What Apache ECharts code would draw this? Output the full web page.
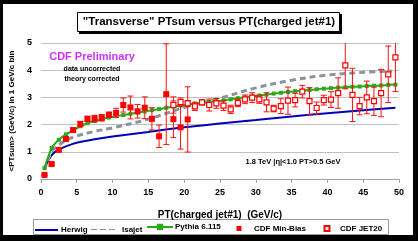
<!DOCTYPE html>
<html><head><meta charset="utf-8">
<script src="https://cdn.jsdelivr.net/npm/echarts@6/dist/echarts.min.js"></script>
<style>html,body{margin:0;padding:0;background:#fff}#c{width:418px;height:241px}</style>
</head><body><div id="c"></div>
<script>
// ---- data ----
const herwigX = [0.5,1.5,2.5,3.5,5,7.5,10,15,20,25,30,35,40,45,49.5];
const herwigY = [0.40,0.88,1.08,1.20,1.33,1.46,1.56,1.73,1.90,2.04,2.17,2.30,2.42,2.53,2.62];
const isajetX = [0.5,1.5,2.5,3.5,5,7.5,10,15,20,25,30,35,40,45,49];
const isajetY = [0.33,1.00,1.25,1.42,1.58,1.75,1.88,2.20,2.63,2.97,3.35,3.63,3.82,3.92,3.97];
const pythiaX = [0.5,1.5,2.5,3.5,4.5,5.5,6.5,7.5,8.5,9.5,10.5,11.5,12.5,13.5,14.5,15.5,16.5,17.5,18.5,19.5,20.5,21.5,22.5,23.5,24.5,25.5,26.5,27.5,28.5,29.5,30.5,31.5,32.5,33.5,34.5,35.5,36.5,37.5,38.5,39.5,40.5,41.5,42.5,43.5,44.5,45.5,46.5,47.5,48.5,49.5];
const pythiaY = [0.40,1.14,1.44,1.64,1.79,1.94,2.05,2.13,2.20,2.26,2.31,2.35,2.40,2.44,2.48,2.53,2.57,2.62,2.66,2.70,2.74,2.77,2.80,2.83,2.86,2.89,2.93,2.97,3.00,3.04,3.07,3.10,3.14,3.17,3.20,3.23,3.25,3.27,3.30,3.32,3.34,3.36,3.37,3.39,3.40,3.42,3.43,3.44,3.46,3.47];
const minBiasX = [0.5,1.5,2.5,3.5,4.5,5.5,6.5,7.5,8.5,9.5,10.5,11.5,12.5,13.5,14.5,15.5,16.5,17.5,18.5,19.5,20.5];
const minBiasY = [0.15,0.55,1.07,1.47,1.80,2.02,2.21,2.22,2.25,2.36,2.43,2.72,2.63,2.49,2.62,2.21,1.57,3.12,2.20,1.90,2.19];
const minBiasErr = [0.02,0.03,0.04,0.05,0.06,0.10,0.10,0.12,0.12,0.10,0.17,0.26,0.42,0.25,0.40,0.41,0.41,1.85,0.67,0.80,1.20];
const jetX = [18.5,19.5,20.5,21.5,22.5,23.5,24.5,25.5,26.5,27.5,28.5,29.5,30.5,31.5,32.5,33.5,34.5,35.5,36.5,37.5,38.5,39.5,40.5,41.5,42.5,43.5,44.5,45.5,46.5,47.5,48.5,49.5];
const jetY = [2.72,2.83,2.78,2.67,2.82,2.72,2.78,2.70,2.56,2.80,2.93,2.99,2.93,2.82,2.59,2.68,2.88,2.90,3.21,2.86,2.61,2.90,2.92,3.16,4.18,3.09,2.68,3.00,2.86,3.16,3.85,4.47];
const jetErr = [0.30,0.15,0.10,0.15,0.10,0.22,0.18,0.18,0.15,0.14,0.16,0.18,0.15,0.35,0.12,0.27,0.50,0.25,0.23,0.50,0.22,0.18,0.29,0.56,0.86,0.98,0.32,0.60,0.52,0.87,1.04,1.25];
const xTicks = [0,5,10,15,20,25,30,35,40,45,50];
const yTicks = [0,1,2,3,4,5];

const pairs = (xs, ys) => xs.map((x, i) => [x, ys[i]]);
const errs = (xs, ys, es) => xs.map((x, i) => [x, ys[i] - es[i], ys[i] + es[i]]);

function errRender(params, api) {
  const x = api.value(0);
  const lo = api.coord([x, api.value(1)]);
  const hi = api.coord([x, api.value(2)]);
  const cw = 3;
  const st = { stroke: '#FF1010', lineWidth: 1 };
  return { type: 'group', children: [
    { type: 'line', shape: { x1: lo[0], y1: lo[1], x2: hi[0], y2: hi[1] }, style: st },
    { type: 'line', shape: { x1: lo[0]-cw, y1: lo[1], x2: lo[0]+cw, y2: lo[1] }, style: st },
    { type: 'line', shape: { x1: hi[0]-cw, y1: hi[1], x2: hi[0]+cw, y2: hi[1] }, style: st }
  ]};
}

const BLUE = '#0000BB', GRAY = '#8A949A', GREEN = '#2EA81A', RED = '#FF0000';
const FONT = 'Liberation Sans, Arial, sans-serif';
const txt = { fontFamily: FONT, fontWeight: 'bold', color: '#000' };
const lts = (pad) => Object.assign({ fontSize: 8, padding: [0, 0, 0, pad] }, txt);

const chart = echarts.init(document.getElementById('c'), null, { renderer: 'canvas' });
const LB = { itemGap: 0, selectedMode: false, padding: 0 };
chart.setOption({
  animation: false,
  backgroundColor: '#fff',
  grid: { left: 35, right: 19, top: 43, bottom: 62 },
  xAxis: {
    type: 'value', min: 0, max: 50, interval: 5,
    name: 'PT(charged jet#1)  (GeV/c)', nameLocation: 'middle', nameGap: 31,
    nameTextStyle: Object.assign({ fontSize: 10 }, txt),
    axisLine: { show: true, lineStyle: { color: '#A0A0A0', width: 1 } },
    axisTick: { show: true, length: 4, lineStyle: { color: '#A0A0A0' } },
    axisLabel: Object.assign({ fontSize: 9, margin: 9 }, txt),
    splitLine: { show: false }
  },
  yAxis: {
    type: 'value', min: 0, max: 5, interval: 1,
    name: '<PTsum> (GeV/c) in 1 GeV/c bin', nameLocation: 'middle', nameGap: 22, nameRotate: 90,
    nameTextStyle: Object.assign({ fontSize: 8 }, txt),
    axisLine: { show: false }, axisTick: { show: false },
    axisLabel: Object.assign({ fontSize: 9, margin: 9 }, txt),
    splitLine: { show: true, lineStyle: { color: '#C0C0C0', width: 1 } }
  },
  legend: [
    Object.assign({ left: 35, top: 226, itemWidth: 23, itemHeight: 2, textStyle: lts(-2),
      data: [{ name: 'Herwig', icon: 'rect' }] }, LB),
    Object.assign({ left: 91, top: 225.5, itemWidth: 24, itemHeight: 3, textStyle: lts(2),
      data: [{ name: 'Isajet', icon: 'path://M0,0h6v1h-6zM9,0h6v1h-6zM18,0h6v1h-6z' }] }, LB),
    Object.assign({ left: 146, top: 223, itemWidth: 26, itemHeight: 8, textStyle: lts(-3),
      data: ['Pythia 6.115'] }, LB),
    Object.assign({ left: 236.5, top: 224.5, itemWidth: 5, itemHeight: 5, textStyle: lts(7.5),
      data: ['CDF Min-Bias'] }, LB),
    Object.assign({ left: 323.5, top: 224.5, itemWidth: 5, itemHeight: 5, textStyle: lts(5.5),
      data: ['CDF JET20'] }, LB)
  ],
  graphic: [
    { type: 'rect', silent: true, z: 100, shape: { x: 0, y: 0, width: 418, height: 4 }, style: { fill: '#000' } },
    { type: 'rect', silent: true, z: 100, shape: { x: 0, y: 0, width: 3, height: 241 }, style: { fill: '#000' } },
    { type: 'rect', silent: true, z: 100, shape: { x: 413, y: 0, width: 5, height: 241 }, style: { fill: '#000' } },
    { type: 'rect', silent: true, z: 100, shape: { x: 0, y: 235, width: 418, height: 6 }, style: { fill: '#000' } },
    { type: 'rect', silent: true, z: 0, shape: { x: 33.5, y: 219.5, width: 355, height: 15 }, style: { fill: 'none', stroke: '#999', lineWidth: 1 } },
    { type: 'rect', silent: true, z: 5, shape: { x: 79, y: 14, width: 263, height: 20 }, style: { fill: '#000' } },
    { type: 'rect', silent: true, z: 6, shape: { x: 77.5, y: 12.5, width: 262, height: 19 }, style: { fill: '#fff', stroke: '#000', lineWidth: 1 } },
    { type: 'text', silent: true, z: 7, left: 'center', top: 16, style: { text: '"Transverse" PTsum versus PT(charged jet#1)', font: 'bold 11.5px ' + FONT, fill: '#000' } },
    { type: 'text', silent: true, z: 7, x: 92, y: 57, style: { text: 'CDF Preliminary', font: 'bold 11px ' + FONT, fill: '#CC33FF', align: 'center', verticalAlign: 'middle' } },
    { type: 'text', silent: true, z: 7, x: 92, y: 69.5, style: { text: 'data uncorrected', font: 'bold 7px ' + FONT, fill: '#000', align: 'center', verticalAlign: 'middle' } },
    { type: 'text', silent: true, z: 7, x: 92, y: 79.5, style: { text: 'theory corrected', font: 'bold 7px ' + FONT, fill: '#000', align: 'center', verticalAlign: 'middle' } },
    { type: 'text', silent: true, z: 7, x: 293, y: 162, style: { text: '1.8 TeV |η|<1.0 PT>0.5 GeV', font: 'bold 7.5px ' + FONT, fill: '#000', align: 'center', verticalAlign: 'middle' } }
  ],
  series: [
    { name: 'Herwig', type: 'line', data: pairs(herwigX, herwigY), smooth: 0.35, showSymbol: false, symbol: 'none',
      lineStyle: { color: BLUE, width: 2 }, itemStyle: { color: BLUE }, z: 3 },
    { name: 'Isajet', type: 'line', data: pairs(isajetX, isajetY), smooth: 0.35, showSymbol: false, symbol: 'none',
      lineStyle: { color: GRAY, width: 3, type: [6, 4] }, itemStyle: { color: GRAY }, z: 3 },
    { name: 'Pythia 6.115', type: 'line', data: pairs(pythiaX, pythiaY), smooth: 0.2, symbol: 'rect', symbolSize: 4, showSymbol: true,
      lineStyle: { color: GREEN, width: 2 }, itemStyle: { color: GREEN }, z: 4 },
    { name: 'errMB', type: 'custom', renderItem: errRender, data: errs(minBiasX, minBiasY, minBiasErr), clip: true, z: 5, silent: true },
    { name: 'errJET', type: 'custom', renderItem: errRender, data: errs(jetX, jetY, jetErr), clip: true, z: 5, silent: true },
    { name: 'CDF Min-Bias', type: 'scatter', data: pairs(minBiasX, minBiasY), symbol: 'rect', symbolSize: 6,
      itemStyle: { color: RED, opacity: 1 }, z: 6 },
    { name: 'CDF JET20', type: 'scatter', data: pairs(jetX, jetY), symbol: 'rect', symbolSize: 5,
      itemStyle: { color: '#fff', borderColor: RED, borderWidth: 1.2, opacity: 1 }, z: 6 }
  ]
});
</script></body></html>
